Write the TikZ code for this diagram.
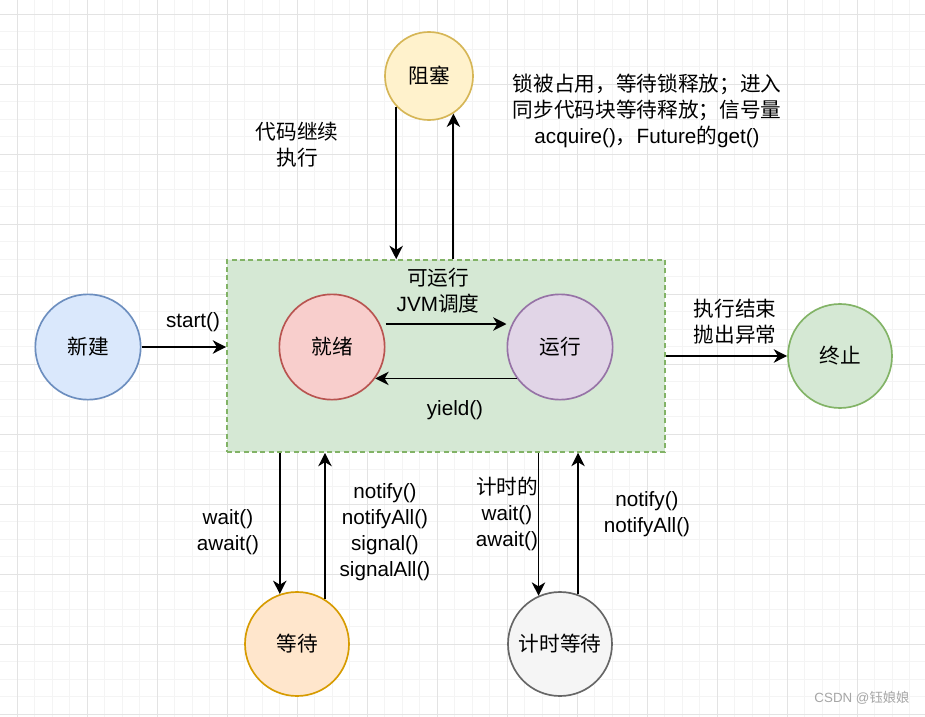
\documentclass[tikz,border=0pt]{standalone}
\usepackage{fontspec}
\setmainfont{Liberation Sans}
\newfontfamily\cjk{Noto Sans CJK SC}
\usetikzlibrary{arrows.meta}

\definecolor{gridminor}{HTML}{F4F4F4}
\definecolor{gridmajor}{HTML}{E3E3E3}
\definecolor{newfill}{HTML}{DAE8FC}   \definecolor{newline}{HTML}{6C8EBF}
\definecolor{readyfill}{HTML}{F8CECC} \definecolor{readyline}{HTML}{B85450}
\definecolor{runfill}{HTML}{E1D5E7}   \definecolor{runline}{HTML}{9673A6}
\definecolor{blockfill}{HTML}{FFF2CC} \definecolor{blockline}{HTML}{D6B656}
\definecolor{endfill}{HTML}{D5E8D4}   \definecolor{endline}{HTML}{82B366}
\definecolor{waitfill}{HTML}{FFE6CC}  \definecolor{waitline}{HTML}{D79B00}
\definecolor{timedfill}{HTML}{F5F5F5} \definecolor{timedline}{HTML}{666666}

\tikzset{
    state/.style={circle, draw, line width=1.25pt, inner sep=0pt,
        minimum size=79pt, font=\cjk\fontsize{15.5}{19}\selectfont},
    flow/.style={-{Stealth[length=10pt, width=10pt, inset=3pt]}, line width=1.4pt},
    lbl/.style={align=center, font=\fontsize{15.5}{19.5}\selectfont},
    zhlbl/.style={lbl, font=\cjk\fontsize{15.5}{19.5}\selectfont},
}

\begin{document}
\begin{tikzpicture}[x=0.75pt, y=-0.75pt]
    % the frame
    \useasboundingbox (0,0) rectangle (925,717);
    \fill[white] (0,0) rectangle (925,717);

    % the grid
    \foreach \i in {-1,...,52} {
        \draw[gridminor, line width=0.75pt] ({17.3+17.5*\i}, 0) -- ({17.3+17.5*\i}, 717);
    };
    \foreach \i in {-1,...,40} {
        \draw[gridminor, line width=0.75pt] (0, {14.3+17.5*\i}) -- (925, {14.3+17.5*\i});
    };
    \foreach \i in {0,...,13} {
        \draw[gridmajor, line width=0.75pt] ({17.3+70*\i}, 0) -- ({17.3+70*\i}, 717);
    };
    \foreach \i in {0,...,10} {
        \draw[gridmajor, line width=0.75pt] (0, {14.3+70*\i}) -- (925, {14.3+70*\i});
    };

    % the runnable box
    \node[draw=endline, fill=endfill, dash pattern=on 3.75pt off 2.5pt,
        line width=1.25pt, minimum width=328.5pt, minimum height=144pt,
        inner sep=0pt] (box) at (446,356) {};

    % the states
    \node[state, fill=newfill, draw=newline] (new) at (88,347) {新建};
    \node[state, fill=readyfill, draw=readyline] (ready) at (332,347) {就绪};
    \node[state, fill=runfill, draw=runline] (run) at (560,347) {运行};
    \node[state, fill=blockfill, draw=blockline, minimum size=66pt] (block) at (429,76) {阻塞};
    \node[state, fill=endfill, draw=endline, minimum size=78pt] (end) at (840,356) {终止};
    \node[state, fill=waitfill, draw=waitline, minimum size=78pt] (wait) at (297,644) {等待};
    \node[state, fill=timedfill, draw=timedline, minimum size=78pt] (timed) at (560,644) {计时等待};

    % the arrows
    \draw[flow] (new) -- (new -| box.west);
    \draw[flow] ([yshift=17.25pt]ready.east) -- ([yshift=17.25pt]run.west);
    \draw[flow] (run.216) -- (ready.-36);
    \draw[flow] (box.east) -- (end.west);
    \draw[flow] (block.-137) -- (block.-137 |- box.north);
    \draw[flow] (box.north -| block.-57) -- (block.-57);
    \draw[flow] (box.south -| wait.109) -- (wait.109);
    \draw[flow] (wait.58) -- (wait.58 |- box.south);
    \draw[flow] (box.south -| timed.114) -- (timed.114);
    \draw[flow] (timed.70) -- (timed.70 |- box.south);

    % labels
    \node[lbl] (lstart) at (193,322) {start()};
    \node[lbl] (lsched) at (438,291) {{\cjk 可运行}\\JVM{\cjk 调度}};
    \node[lbl] (lyield) at (455,410) {yield()};
    \node[zhlbl] (lfinish) at (735,322) {执行结束\\抛出异常};
    \node[zhlbl] (lresume) at (297,145) {代码继续\\执行};
    \node[lbl] (lblock) at (647,111)
        {{\cjk 锁被占用，等待锁释放；进入}\\{\cjk 同步代码块等待释放；信号量}\\acquire(){\cjk ，}Future{\cjk 的}get()};
    \node[lbl] (lwait) at (228,532) {wait()\\await()};
    \node[lbl] (lnotify) at (385,532) {notify()\\notifyAll()\\signal()\\signalAll()};
    \node[lbl] (ltimed) at (507,514) {{\cjk 计时的}\\wait()\\await()};
    \node[lbl] (ltnotify) at (647,514) {notify()\\notifyAll()};

    % watermark
    \node[text=black!35, font=\fontsize{10}{12}\selectfont] (mark) at (862,698) {CSDN @{\cjk 钰娘娘}};
\end{tikzpicture}
\end{document}
